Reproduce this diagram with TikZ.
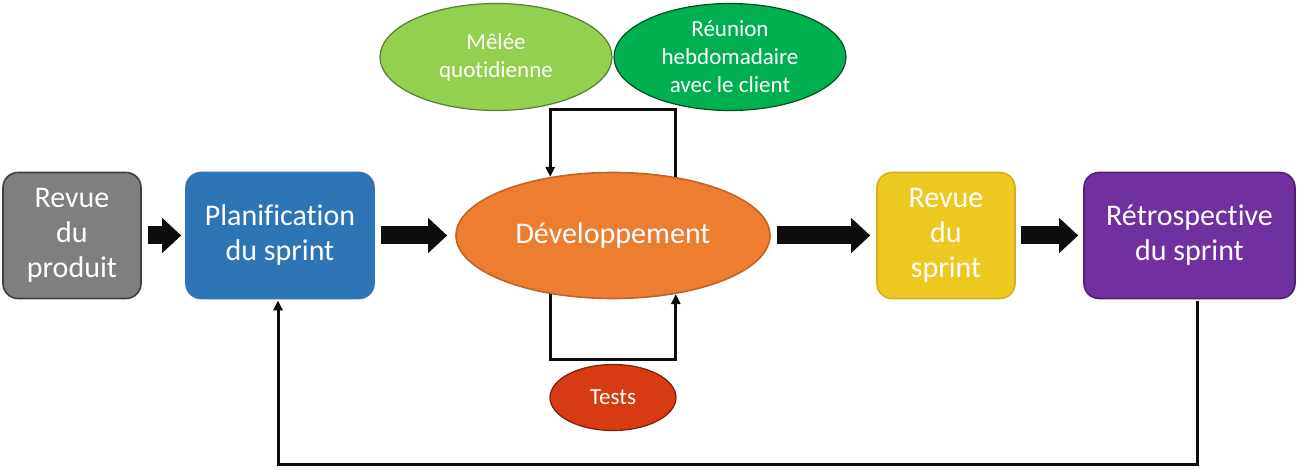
\documentclass[tikz,border=0pt]{standalone}
\usepackage{fontspec}
\setmainfont{Carlito}[Ligatures={NoCommon}]
\usetikzlibrary{arrows.meta,shapes.geometric}

\definecolor{grisrevue}{HTML}{7F7F7F}
\definecolor{bleuplan}{HTML}{2E75B6}
\definecolor{orangedev}{HTML}{ED7D31}
\definecolor{jaunerevue}{HTML}{EDC821}
\definecolor{violetretro}{HTML}{7030A0}
\definecolor{vertclair}{HTML}{92D050}
\definecolor{vertfonce}{HTML}{00B050}
\definecolor{rougetests}{HTML}{D83B13}
\definecolor{noirfleche}{HTML}{0D0D0D}

\begin{document}
\begin{tikzpicture}[x=0.5pt, y=-0.5pt,
  etape/.style={rectangle, rounded corners=7.5pt, line width=0.8pt, text=white, align=center,
    inner sep=0pt, minimum height=63pt, font=\fontsize{15}{17.5}\selectfont},
  bulle/.style={ellipse, line width=0.6pt, text=white, align=center, inner sep=0pt,
    minimum width=116pt, minimum height=53.5pt, font=\fontsize{11.5}{14}\selectfont},
  fatarrow/.style={noirfleche, line width=9pt, -{Triangle[length=9.5pt,width=17pt]},
    shorten <=3pt, shorten >=3pt},
  backline/.style={noirfleche, line width=1.5pt, -{Triangle[length=5pt,width=4.5pt]}}]
  \useasboundingbox (0,0) rectangle (1298,470);

  \node[etape, fill=grisrevue, draw=grisrevue!50!black, minimum width=69pt] (produit) at (72,235.5) {Revue\\du\\produit};
  \node[etape, fill=bleuplan, draw=bleuplan, minimum width=94pt] (plan) at (280,235.5) {Planification\\du sprint};
  \node[ellipse, fill=orangedev, draw=orangedev!80!black, line width=0.8pt, text=white, inner sep=0pt,
    minimum width=157pt, minimum height=63pt, font=\fontsize{15}{17.5}\selectfont] (dev) at (613,235.5) {Développement};
  \node[etape, fill=jaunerevue, draw=jaunerevue!88!black, minimum width=69pt] (revsprint) at (946,235.5) {Revue\\du\\sprint};
  \node[etape, fill=violetretro, draw=violetretro!70!black, minimum width=105.5pt] (retro) at (1189.5,235.5) {Rétrospective\\du sprint};

  \node[bulle, fill=vertclair, draw=vertclair!60!black] (melee) at (496,57) {Mêlée\\quotidienne};
  \node[bulle, fill=vertfonce, draw=vertfonce!45!black] (reunion) at (730,57) {Réunion\\hebdomadaire\\avec le client};
  \node[bulle, fill=rougetests, draw=rougetests!55!black, minimum width=63pt, minimum height=33pt] (tests) at (613,397.5) {Tests};

  \draw[fatarrow, shorten >=2pt] (produit) -- (plan);
  \draw[fatarrow, shorten >=4pt] (plan) -- (dev);
  \draw[fatarrow] (dev) -- (revsprint);
  \draw[fatarrow, shorten <=2.5pt, shorten >=2.5pt] (revsprint) -- (retro);

  \coordinate (haut) at (613,110);
  \coordinate (bas) at (613,360);
  \coordinate (retour) at (737,465);
  \draw[backline] (dev.43) |- (haut) -| (dev.137);
  \draw[backline] (dev.-137) |- (bas) -| (dev.-43);
  \draw[backline] ([xshift=3.75pt,yshift=-0.8pt]retro.south) |- (retour) -| ([xshift=-1pt,yshift=-0.5pt]plan.south);
\end{tikzpicture}
\end{document}
